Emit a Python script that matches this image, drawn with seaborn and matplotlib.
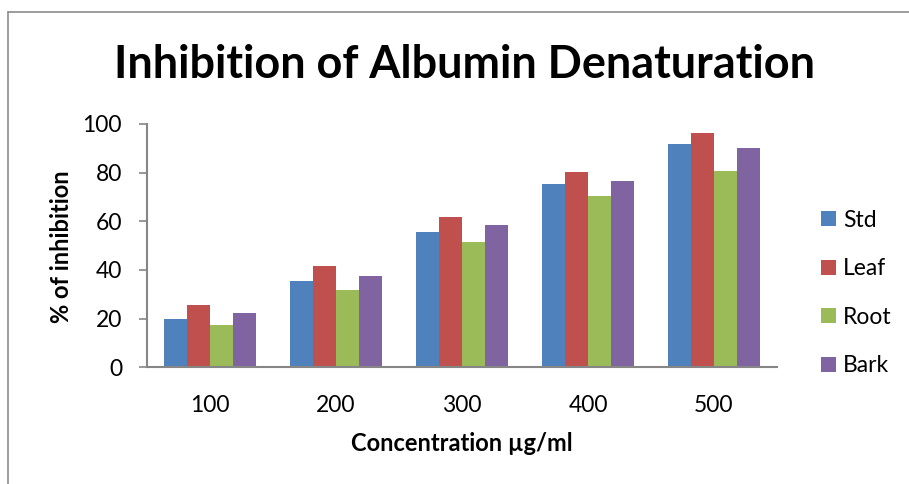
import numpy as np
import pandas as pd
import matplotlib
matplotlib.use('Agg')
import matplotlib.pyplot as plt
from matplotlib.lines import Line2D
import seaborn as sns

concentrations = ['100', '200', '300', '400', '500']
std = [20.0, 35.4, 55.7, 75.2, 91.7]
leaf = [25.5, 41.6, 61.7, 80.2, 96.1]
root = [17.4, 31.6, 51.7, 70.6, 80.7]
bark = [22.2, 37.5, 58.3, 76.4, 90.1]
series_names = ['Std', 'Leaf', 'Root', 'Bark']
colors = ['#4F81BD', '#C0504D', '#9BBB59', '#8064A2']

rows = []
for name, vals in zip(series_names, [std, leaf, root, bark]):
    for c, v in zip(concentrations, vals):
        rows.append({'Concentration': c, 'Sample': name, 'Inhibition': v})
df = pd.DataFrame(rows)

sns.set_theme(style='white')
plt.rcParams['font.family'] = ['Lato', 'DejaVu Sans']
plt.rcParams['text.color'] = 'black'
plt.rcParams['axes.labelcolor'] = 'black'

fig = plt.figure(figsize=(9.09, 4.84), dpi=100)
ax = fig.add_axes([147 / 909, 1 - 367.3 / 484, 630 / 909, 243.3 / 484])

sns.barplot(data=df, x='Concentration', y='Inhibition', hue='Sample',
            order=concentrations, hue_order=series_names,
            palette=colors, width=0.73, saturation=1, gap=0,
            edgecolor='none', ax=ax)

ax.set_ylim(0, 100)
ax.set_xlim(-0.5, 4.5)
ax.set_yticks([0, 20, 40, 60, 80, 100])
ax.tick_params(axis='y', length=6, width=1.2, color='#868686', pad=12,
               labelsize=16.5, left=True, labelcolor='black')
ax.tick_params(axis='x', length=0, pad=20, labelsize=16.5, labelcolor='black')
for s in ['top', 'right']:
    ax.spines[s].set_visible(False)
for s in ['left', 'bottom']:
    ax.spines[s].set_color('#868686')
    ax.spines[s].set_linewidth(1.5)

ax.set_xlabel('Concentration µg/ml', fontsize=17, fontweight='bold')
ax.set_ylabel('% of inhibition', fontsize=17, fontweight='bold')
ax.xaxis.set_label_coords(0.5, -0.265)
ax.yaxis.set_label_coords(-0.118, 0.494)

handles, labels = ax.get_legend_handles_labels()
ax.legend(handles, labels, loc='center left',
          bbox_to_anchor=(821 / 909, 1 - 293 / 484),
          bbox_transform=fig.transFigure, frameon=False, fontsize=16.5,
          handlelength=0.65, handleheight=0.65, handletextpad=0.3,
          labelspacing=1.2, borderpad=0, borderaxespad=0)

fig.text(465 / 909, 1 - 78 / 484, 'Inhibition of Albumin Denaturation',
         ha='center', va='baseline', fontsize=32.4, fontweight='bold')

fig.add_artist(Line2D([8 / 909, 8 / 909], [0, 1 - 12 / 484],
                      transform=fig.transFigure, color='#8c8c8c', lw=1.2))
fig.add_artist(Line2D([8 / 909, 1], [1 - 12 / 484, 1 - 12 / 484],
                      transform=fig.transFigure, color='#8c8c8c', lw=1.2))

fig.savefig('out.png', dpi=100, facecolor='white')
